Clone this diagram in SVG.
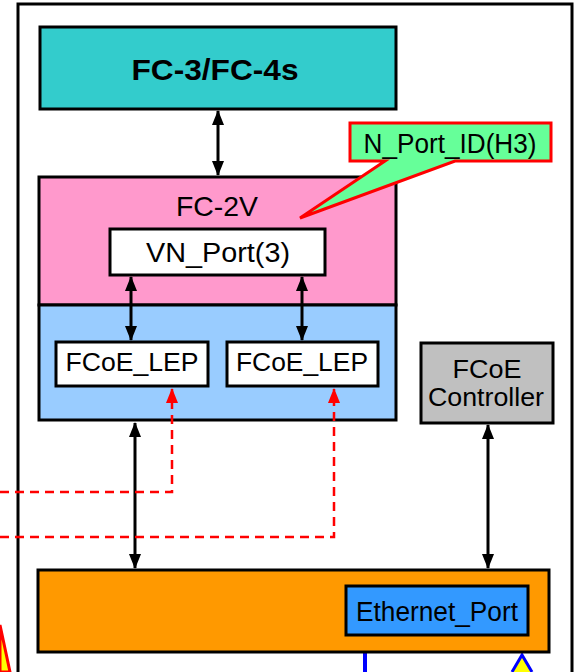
<svg xmlns="http://www.w3.org/2000/svg" width="578" height="672" viewBox="0 0 578 672">
<defs>
<marker id="ah" viewBox="0 0 15 12" refX="14" refY="6" markerWidth="15" markerHeight="12" markerUnits="userSpaceOnUse" orient="auto-start-reverse">
<path d="M0,0 L15,6 L0,12 z" fill="#000"/>
</marker>
<marker id="rh" viewBox="0 0 15 12" refX="14" refY="6" markerWidth="15" markerHeight="12" markerUnits="userSpaceOnUse" orient="auto">
<path d="M0,0 L15,6 L0,12 z" fill="#FF0000"/>
</marker>
<style>
.box{stroke:#000;stroke-width:3}
.t{font-family:"Liberation Sans",Arial,sans-serif;fill:#000;text-anchor:middle}
.arr{stroke:#000;stroke-width:3;fill:none;marker-start:url(#ah);marker-end:url(#ah)}
.dash{stroke:#FF0000;stroke-width:2.5;fill:none;stroke-dasharray:9,6;marker-end:url(#rh)}
</style>
</defs>
<rect width="578" height="672" fill="#fff"/>
<g id="frame">
<rect x="18" y="4" width="554" height="670" fill="#fff" stroke="#000" stroke-width="3"/>
</g>
<g id="outside">
<path d="M0,625 L10,672 L0,672 z" fill="#FFFF00" stroke="#FF0000" stroke-width="3"/>
<path d="M512,672 L522,655 L532,672" fill="#FFFF00" stroke="#0000FF" stroke-width="3"/>
<line x1="365" y1="636" x2="365" y2="672" stroke="#0000FF" stroke-width="4"/>
</g>
<g id="fc34">
<rect class="box" x="40" y="27" width="356" height="82" fill="#33CCCC"/>
<text class="t" x="215" y="80" font-size="30" font-weight="bold" textLength="167" lengthAdjust="spacingAndGlyphs">FC-3/FC-4s</text>
</g>
<g id="fc2v">
<rect class="box" x="39" y="177" width="357" height="128" fill="#FF99CC"/>
<text class="t" x="217" y="216" font-size="28" textLength="82" lengthAdjust="spacingAndGlyphs">FC-2V</text>
</g>
<g id="vnport">
<rect class="box" x="110" y="229" width="215" height="46" fill="#fff"/>
<text class="t" x="218" y="262" font-size="27" textLength="144" lengthAdjust="spacingAndGlyphs">VN_Port(3)</text>
</g>
<g id="lepbox">
<rect class="box" x="39" y="305" width="357" height="115" fill="#99CCFF"/>
</g>
<g id="lep1">
<rect class="box" x="56" y="342" width="152" height="44" fill="#fff"/>
<text class="t" x="132" y="371" font-size="26" textLength="133" lengthAdjust="spacingAndGlyphs">FCoE_LEP</text>
</g>
<g id="lep2">
<rect class="box" x="227" y="342" width="151" height="44" fill="#fff"/>
<text class="t" x="302" y="371" font-size="26" textLength="132" lengthAdjust="spacingAndGlyphs">FCoE_LEP</text>
</g>
<g id="ctrl">
<rect class="box" x="421" y="343" width="132" height="80" fill="#C0C0C0"/>
<text class="t" x="487" y="378" font-size="26" textLength="69" lengthAdjust="spacingAndGlyphs">FCoE</text>
<text class="t" x="486" y="406" font-size="26" textLength="116" lengthAdjust="spacingAndGlyphs">Controller</text>
</g>
<g id="mac">
<rect class="box" x="38" y="570" width="511" height="82" fill="#FF9900"/>
</g>
<g id="ethport">
<rect class="box" x="346" y="586" width="182" height="49" fill="#3399FF"/>
<text class="t" x="437" y="621" font-size="27" textLength="162" lengthAdjust="spacingAndGlyphs">Ethernet_Port</text>
</g>
<g id="callout">
<path d="M350,123 L551,123 L551,161 L455,161 L300,218 L385,161 L350,161 z" fill="#66FF99" stroke="#FF0000" stroke-width="3" stroke-linejoin="miter"/>
<text class="t" x="450" y="153" font-size="27" textLength="173" lengthAdjust="spacingAndGlyphs">N_Port_ID(H3)</text>
</g>
<g id="connectors">
<line class="arr" x1="218" y1="111" x2="218" y2="175"/>
<line class="arr" x1="131" y1="277" x2="131" y2="340"/>
<line class="arr" x1="302" y1="277" x2="302" y2="340"/>
<line class="arr" x1="135" y1="423" x2="135" y2="568"/>
<line class="arr" x1="488" y1="425" x2="488" y2="568"/>
<path class="dash" d="M0,492 L172,492 L172,389"/>
<path class="dash" d="M0,537 L334,537 L334,389"/>
</g>
</svg>
